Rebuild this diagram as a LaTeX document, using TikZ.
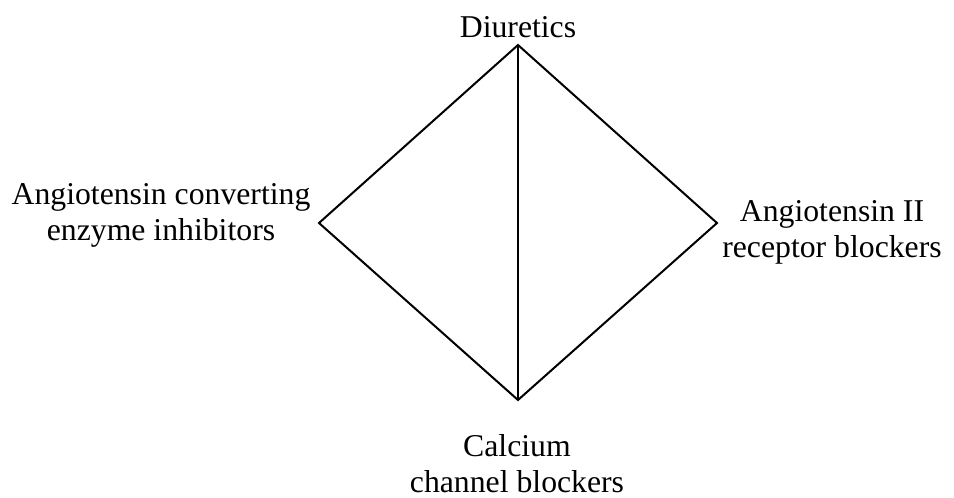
\documentclass[tikz,border=0pt]{standalone}
\usepackage{fontspec}
\setmainfont{Liberation Serif}
\usepackage{tikz}
\usetikzlibrary{positioning}

\tikzset{
  drug/.style={font=\fontsize{23.8}{27}\selectfont,align=center,inner sep=0pt,anchor=base},
  edge/.style={line width=1.5pt,line join=miter}
}

\begin{document}
\begin{tikzpicture}[x=0.75pt,y=-0.75pt]
  \useasboundingbox (0,0) rectangle (954,497);

  % vertices
  \coordinate (T) at (518,45);
  \coordinate (L) at (319,223);
  \coordinate (R) at (717,223);
  \coordinate (B) at (518,400);

  % diamond
  \draw[edge] (T) -- (R) -- (B) -- (L) -- cycle;
  \draw[edge] (T) -- (B);

  % labels
  \node[drug] (diu) at (518,37) {Diuretics};
  \node[drug] (ace) at (161,240) {Angiotensin converting\\enzyme inhibitors};
  \node[drug] (arb) at (832,257) {Angiotensin II\\receptor blockers};
  \node[drug] (ccb) at (517,492) {Calcium\\channel blockers};
\end{tikzpicture}
\end{document}
